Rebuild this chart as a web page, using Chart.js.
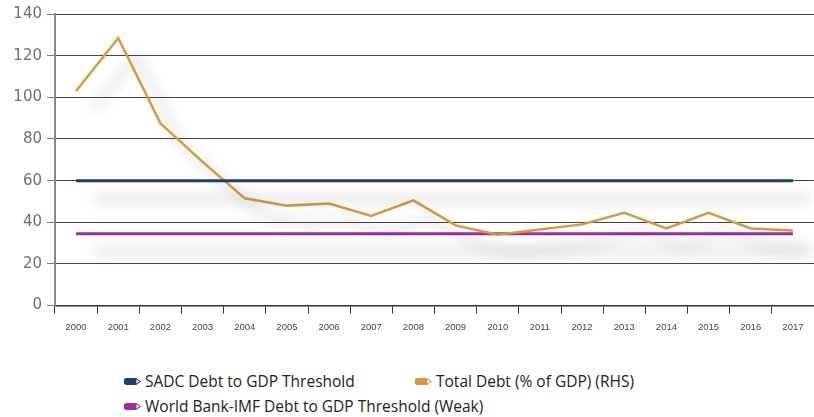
<!DOCTYPE html>
<html>
<head>
<meta charset="utf-8">
<script src="https://cdn.jsdelivr.net/npm/chart.js@4.4.0/dist/chart.umd.min.js"></script>
<style>
  body { margin: 0; background: #fff; }
  #wrap { position: relative; width: 814px; height: 341px; }
  #legend { position: absolute; left: 124px; top: 370px; font-family: "Open Sans", "DejaVu Sans", sans-serif; font-size: 15.5px; color: #222; width: 650px; }
  .item { position: absolute; white-space: nowrap; display: flex; align-items: center; line-height: 22px; }
  .item svg { margin-right: 3px; }
</style>
</head>
<body>
<div id="wrap"><canvas id="debtChart"></canvas></div>
<div id="legend"></div>
<script>
const years = ['2000','2001','2002','2003','2004','2005','2006','2007','2008','2009','2010','2011','2012','2013','2014','2015','2016','2017'];
const sadcThreshold = [60,60,60,60,60,60,60,60,60,60,60,60,60,60,60,60,60,60];
const totalDebt = [103,128.5,87.5,69,51.5,48,49,43,50.5,38.5,34,36.5,39,44.5,37,44.5,37,36];
const weakThreshold = [34.5,34.5,34.5,34.5,34.5,34.5,34.5,34.5,34.5,34.5,34.5,34.5,34.5,34.5,34.5,34.5,34.5,34.5];
const yTicks = [0,20,40,60,80,100,120,140];

// grey drop shadow behind the lines
const shadowPlugin = {
    id: 'lineShadow',
    beforeDatasetsDraw(chart) {
        const ctx = chart.ctx;
        ctx.save();
        ctx.shadowColor = 'rgba(0,0,0,0.32)';
        ctx.shadowBlur = 14;
        ctx.shadowOffsetX = 18;
        ctx.shadowOffsetY = 18;
    },
    afterDatasetsDraw(chart) {
        chart.ctx.restore();
    }
};

const ctx = document.getElementById('debtChart').getContext('2d');
const chart = new Chart(ctx, {
    type: 'line',
    data: {
        labels: years,
        datasets: [
            { label: 'SADC Debt to GDP Threshold', data: sadcThreshold, borderColor: '#1e3f6e', borderWidth: 3, pointRadius: 0, tension: 0 },
            { label: 'Total Debt (% of GDP) (RHS)', data: totalDebt, borderColor: '#d59a3c', borderWidth: 2.5, pointRadius: 0, tension: 0 },
            { label: 'World Bank-IMF Debt to GDP Threshold (Weak)', data: weakThreshold, borderColor: '#9c2f9d', borderWidth: 3, pointRadius: 0, tension: 0 }
        ]
    },
    options: {
        responsive: true,
        maintainAspectRatio: false,
        animation: false,
        layout: { padding: { top: 9, right: 0, left: 0, bottom: 0 } },
        plugins: {
            legend: { display: false },
            tooltip: { enabled: false }
        },
        scales: {
            x: {
                offset: true,
                grid: { offset: true, drawOnChartArea: false, color: '#333', tickLength: 8, lineWidth: 1 },
                border: { color: '#333', width: 1.5 },
                ticks: { color: '#444', font: { family: 'Liberation Sans', size: 9.5 }, maxRotation: 0, padding: 8 }
            },
            y: {
                min: 0,
                max: 140,
                afterBuildTicks(scale) { scale.ticks = yTicks.map(v => ({ value: v })); },
                afterFit(scale) { scale.width = 55; },
                grid: { color: '#444', lineWidth: 1, tickLength: 8, tickColor: '#777' },
                border: { color: '#888', width: 2 },
                ticks: { color: '#707070', font: { family: 'DejaVu Sans', size: 15 }, padding: 5 }
            }
        }
    },
    plugins: [shadowPlugin]
});

// html legend in two columns like the original
function pencil(color) {
    return '<svg width="18" height="9" viewBox="0 0 18 9"><path d="M3 1 H12 L17 4.5 L12 8 H3 A3.5 3.5 0 0 1 3 1 Z" fill="' + color + '"/><path d="M12 1.8 L16 4.5 L12 7.2 Z" fill="#fff" stroke="' + color + '" stroke-width="0.8"/></svg>';
}
const legendPos = [[0, 0], [291, 0], [0, 25]];
const legendEl = document.getElementById('legend');
chart.data.datasets.forEach((ds, i) => {
    const div = document.createElement('div');
    div.className = 'item';
    div.style.left = legendPos[i][0] + 'px';
    div.style.top = legendPos[i][1] + 'px';
    div.innerHTML = pencil(ds.borderColor) + '<span>' + ds.label + '</span>';
    legendEl.appendChild(div);
});
</script>
</body>
</html>
